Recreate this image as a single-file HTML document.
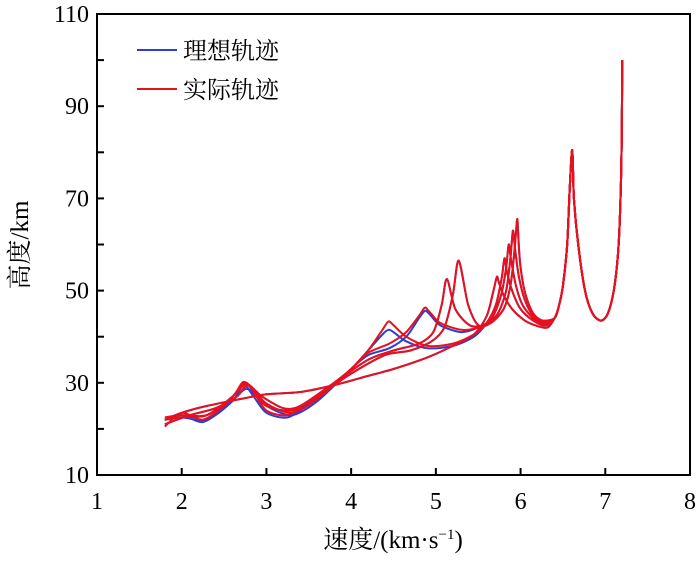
<!DOCTYPE html>
<html><head><meta charset="utf-8"><style>
body{margin:0;background:#fff}
svg text{font-family:"Liberation Serif","Noto Serif CJK SC",serif;fill:#000}
</style></head><body>
<svg id="c" width="700" height="558" viewBox="0 0 700 558"></svg>
<script>
const xTicks=[1,2,3,4,5,6,7,8];
const yTicks=[10,30,50,70,90,110];
const common=[[7.2,100],[7.195,85],[7.18,70],[7.15,58],[7.1,50],[7.03,45],[6.95,43.5],[6.85,45],[6.76,50],[6.68,60],[6.63,70],[6.61,80.5],[6.58,72],[6.55,60],[6.5,51],[6.45,46.5],[6.4,44]];
const redT1=[[6.26,43.5],[6.15,45],[6.06,49],[6.0,55],[5.975,61],[5.96,65.5],[5.93,59],[5.88,51],[5.8,46],[5.65,43],[5.5,42.5],[5.38,47],[5.27,56.5],[5.2,49],[5.1,42],[4.95,39],[4.7,37],[4.4,36],[4.0,32],[3.6,27],[3.3,24],[3.0,25],[2.85,28],[2.75,30],[2.6,27],[2.3,23],[2.0,22.5],[1.8,22]];
const redT2=[[6.27,43.2],[6.15,44.5],[6.05,48],[5.98,53],[5.935,59],[5.91,63],[5.88,57],[5.83,50],[5.73,45],[5.58,42.5],[5.4,42.5],[5.23,46],[5.13,52.5],[5.07,47],[4.97,41],[4.8,38.5],[4.5,37],[4.2,35],[3.8,30],[3.4,25],[3.2,24.5],[2.95,27],[2.78,29.5],[2.65,27],[2.4,24.5],[2.1,23],[1.8,21]];
const redT3=[[6.28,42.8],[6.15,44],[6.02,47],[5.94,51.5],[5.885,57],[5.86,60],[5.83,55],[5.77,49],[5.66,44],[5.5,42],[5.3,41.5],[5.05,43],[4.92,45.5],[4.87,46.3],[4.8,44.5],[4.65,41],[4.45,38.5],[4.2,36.5],[4.0,33],[3.6,26.5],[3.3,23.5],[3.0,25.5],[2.8,29.5],[2.7,29],[2.5,25],[2.25,22],[2.0,23.5],[1.8,20.5]];
const redT4=[[6.3,42.4],[6.15,43.5],[6.0,46],[5.9,50],[5.84,54],[5.81,57],[5.78,53],[5.71,47],[5.6,43],[5.45,40.5],[5.2,38.5],[4.9,38],[4.65,40],[4.5,42.5],[4.44,43.3],[4.37,41.5],[4.2,37],[4.0,33],[3.8,30],[3.5,26],[3.25,23],[3.0,24],[2.85,28],[2.73,30.2],[2.6,27],[2.3,23],[2.0,23],[1.8,22.5]];
const redT5=[[6.32,42],[6.2,42.3],[6.05,43.5],[5.9,46],[5.8,49],[5.74,52],[5.72,53],[5.68,50],[5.6,44.5],[5.45,40.5],[5.2,38],[4.9,35.5],[4.5,33],[4.2,31.5],[3.8,29.5],[3.4,28],[3.0,27.5],[2.7,26.5],[2.3,25],[2.0,23.5],[1.8,22]];
const blueT1=redT1.map(p=>[p[0],p[1]]);
const blueT2=redT2.map(p=>[p[0],p[1]]);
const blueT3=[[6.28,42.8],[6.15,44],[6.02,47],[5.94,51.5],[5.885,57],[5.86,60],[5.83,55],[5.77,49],[5.66,44],[5.5,42],[5.3,41],[5.05,42.5],[4.92,45],[4.87,45.6],[4.8,44],[4.65,40],[4.45,37.5],[4.2,36],[4.0,33],[3.6,26],[3.3,23],[3.0,25],[2.8,28.5],[2.7,28],[2.5,24.5],[2.25,21.5],[2.0,23],[1.8,22]];
const blueT4=[[6.3,42.4],[6.15,43.5],[6.0,46],[5.9,50],[5.84,54],[5.81,57],[5.78,53],[5.71,47],[5.6,43],[5.45,40],[5.2,38],[4.9,37.5],[4.65,39],[4.5,41],[4.44,41.5],[4.37,40.5],[4.2,37],[4.0,33],[3.8,30],[3.5,25.5],[3.25,22.5],[3.0,23.5],[2.85,27],[2.73,29.5],[2.6,26],[2.3,22],[2.0,22.5],[1.8,22]];
const blueT5=redT5.map(p=>[p[0],p[1]]);
const blueSet=[blueT1,blueT2,blueT3,blueT4,blueT5];
const redSet=[redT1,redT2,redT3,redT4,redT5];

const L=97,R=690,T=14,B=475;
const sx=v=>L+(v-1)/7*(R-L);
const sy=h=>B-(h-10)/100*(B-T);
const svg=document.getElementById('c');
const NS='http://www.w3.org/2000/svg';
function mk(tag,attrs,parent){const e=document.createElementNS(NS,tag);for(const k in attrs)e.setAttribute(k,attrs[k]);(parent||svg).appendChild(e);return e;}
function pathD(pts){
  const p=pts.map(q=>[sx(q[0]),sy(q[1])]);
  let d='M'+p[0][0].toFixed(1)+','+p[0][1].toFixed(1);
  for(let i=0;i<p.length-1;i++){
    const p0=p[Math.max(0,i-1)],p1=p[i],p2=p[i+1],p3=p[Math.min(p.length-1,i+2)];
    const c1=[p1[0]+(p2[0]-p0[0])/7,p1[1]+(p2[1]-p0[1])/7];
    const c2=[p2[0]-(p3[0]-p1[0])/7,p2[1]-(p3[1]-p1[1])/7];
    d+='C'+c1.map(v=>v.toFixed(1)).join(',')+' '+c2.map(v=>v.toFixed(1)).join(',')+' '+p2[0].toFixed(1)+','+p2[1].toFixed(1);
  }
  return d;
}
blueSet.forEach((t,i)=>{
  const e=mk('path',{d:pathD(common.concat(t)),fill:'none',stroke:'#2a3fd6','stroke-width':2,'stroke-linejoin':'round'});
  
  
});
redSet.forEach((t,i)=>{
  const e=mk('path',{d:pathD(common.concat(t)),fill:'none',stroke:'#e8101c','stroke-width':2,'stroke-linejoin':'round'});
  
  
});
const frame=mk('rect',{x:L,y:T,width:R-L,height:B-T,fill:'none',stroke:'#000','stroke-width':2});


xTicks.forEach(v=>{
  if(v>1&&v<8){mk('line',{x1:sx(v),x2:sx(v),y1:B,y2:B-7,stroke:'#000','stroke-width':2});}
  const t=mk('text',{x:sx(v),y:B+34,'text-anchor':'middle','font-size':24});
  t.textContent=v;
  
  
});
for(let h=20;h<110;h+=10){mk('line',{x1:L,x2:L+7,y1:sy(h),y2:sy(h),stroke:'#000','stroke-width':2});}
yTicks.forEach(h=>{
  const t=mk('text',{x:L-8,y:sy(h)+8,'text-anchor':'end','font-size':24});
  t.textContent=h;
  
  
});
</script>
<svg width="700" height="558" style="position:absolute;left:0;top:0">
<g font-family="Liberation Serif,'Noto Serif CJK SC',serif" font-size="24">
<line x1="137" y1="50" x2="177" y2="50" stroke="#2a3fd6" stroke-width="2"/>
<text x="183" y="59">理想轨迹</text>
<line x1="137" y1="89" x2="177" y2="89" stroke="#e8101c" stroke-width="2"/>
<text x="183" y="98">实际轨迹</text>
</g>
<text x="393" y="548" text-anchor="middle" font-size="25" font-family="Liberation Serif,'Noto Serif CJK SC',serif">速度/(km·s<tspan dy="-9" font-size="15">−1</tspan><tspan dy="9">)</tspan></text>
<text transform="translate(28,245) rotate(-90)" text-anchor="middle" font-size="25" font-family="Liberation Serif,'Noto Serif CJK SC',serif">高度/km</text>
</svg>
</body></html>
